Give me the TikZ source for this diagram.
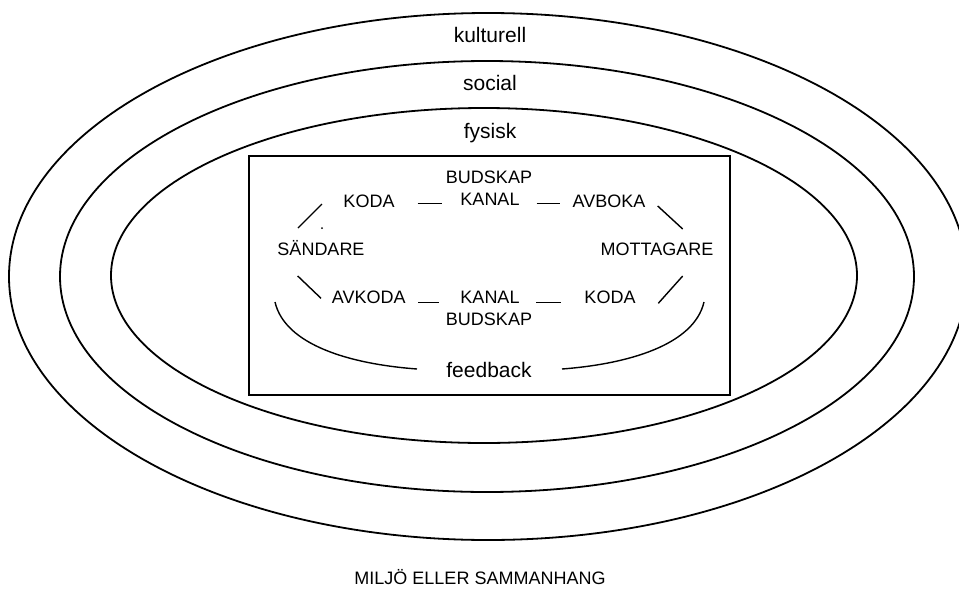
\documentclass[tikz,border=0pt]{standalone}
\usepackage{fontspec}
\setmainfont{Liberation Sans}
\usetikzlibrary{shapes.geometric}
\tikzset{
  ring/.style={draw, ellipse, line width=1.8pt, inner sep=0pt, outer sep=0pt},
  frame/.style={draw, rectangle, line width=1.8pt, inner sep=0pt},
  biglbl/.style={inner sep=0pt, anchor=base, font=\fontsize{21}{24}\selectfont},
  lbl/.style={inner sep=0pt, anchor=base, font=\fontsize{18}{21}\selectfont},
  link/.style={line width=1.4pt},
}
\begin{document}
\begin{tikzpicture}[x=1pt,y=-1pt]
\useasboundingbox (0,0) rectangle (959,592);
\clip (0,0) rectangle (959,592);
% environment ellipses
\node[ring, minimum width=958pt, minimum height=527pt] (kult) at (488,276.5) {};
\node[ring, minimum width=854pt, minimum height=431pt] (soc) at (487,276.5) {};
\node[ring, minimum width=746pt, minimum height=335pt] (fys) at (484,275.5) {};
\node[biglbl] (kultl) at (490,42) {kulturell};
\node[biglbl] (socl) at (490,90) {social};
\node[biglbl] (fysl) at (490,138) {fysisk};
% frame
\node[frame, minimum width=481pt, minimum height=239pt] (box) at (489.5,275.5) {};
% texts
\node[lbl] (budT) at (489,183) {BUDSKAP};
\node[lbl] (kanalT) at (490,205) {KANAL};
\node[lbl] (kodaT) at (369,207) {KODA};
\node[lbl] (avboka) at (609,207) {AVBOKA};
\node[lbl] (sand) at (321,255) {SÄNDARE};
\node[lbl] (mott) at (657,255) {MOTTAGARE};
\node[lbl] (avkoda) at (368.7,303) {AVKODA};
\node[lbl] (kanalB) at (490,303) {KANAL};
\node[lbl] (kodaB) at (610,303) {KODA};
\node[lbl] (budB) at (489,325) {BUDSKAP};
\node[biglbl] (fb) at (489,377) {feedback};
\node[lbl] (miljo) at (480,584) {MILJÖ ELLER SAMMANHANG};
% dashes
\draw[link] ([shift={(48.7,-3.7)}]kodaT.base) -- ([shift={(-48.3,-1.7)}]kanalT.base);
\draw[link] ([shift={(46.7,-1.7)}]kanalT.base) -- ([shift={(-49,-3.7)}]avboka.base);
\draw[link] ([shift={(49.6,-0.3)}]avkoda.base) -- ([shift={(-51,-0.3)}]kanalB.base);
\draw[link] ([shift={(46,-0.3)}]kanalB.base) -- ([shift={(-49.3,-0.3)}]kodaB.base);
% slashes
\draw[link] ([shift={(-23,-27)}]sand.base) -- ([shift={(-47,-3)}]kodaT.base);
\draw[link] ([shift={(48.7,-1)}]avboka.base) -- ([shift={(25.7,-26)}]mott.base);
\draw[link] ([shift={(-23.3,21)}]sand.base) -- ([shift={(-47.7,-4.7)}]avkoda.base);
\draw[link] ([shift={(48.3,0.3)}]kodaB.base) -- ([shift={(25.7,21)}]mott.base);
\fill ([shift={(1,-27)}]sand.base) circle (1pt);
% feedback
\draw[link] ([shift={(-46,47)}]sand.base) .. controls (285,345) and (350,364) .. ([shift={(-72,-8)}]fb.base);
\draw[link] ([shift={(47,47)}]mott.base) .. controls (694,345) and (628,364) .. ([shift={(73,-8)}]fb.base);
\end{tikzpicture}
\end{document}
